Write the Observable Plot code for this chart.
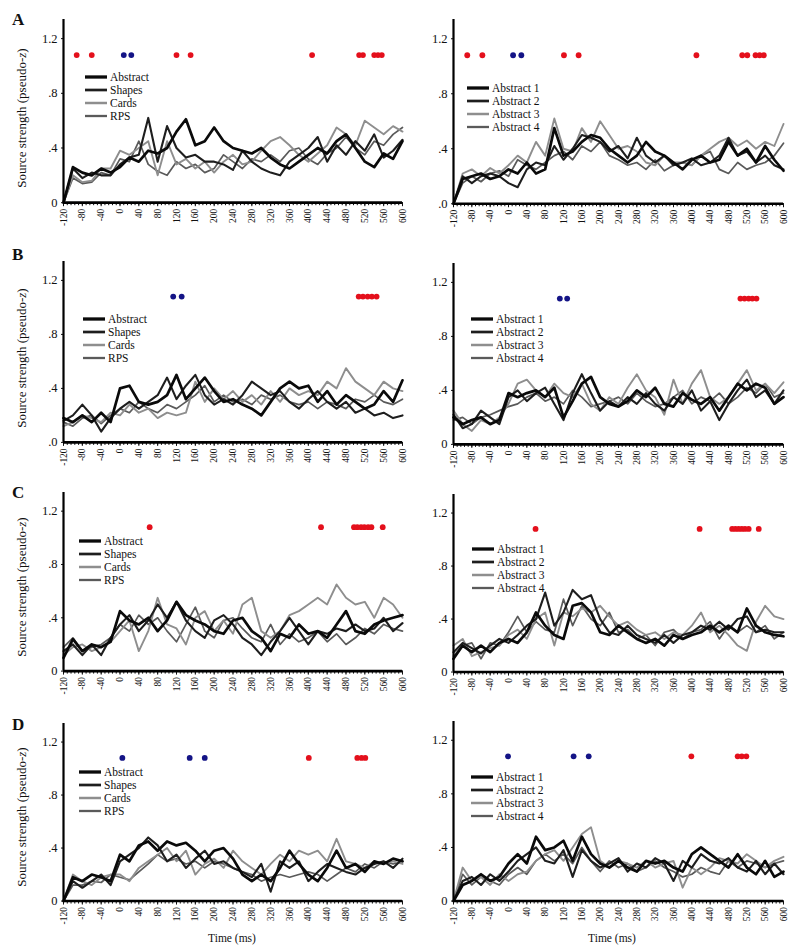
<!DOCTYPE html>
<html><head><meta charset="utf-8">
<script src="https://cdn.jsdelivr.net/npm/d3@7"></script>
<script src="https://cdn.jsdelivr.net/npm/@observablehq/plot@0.6"></script>
<style>
body{margin:0;background:#fff;font-family:"Liberation Serif","Times New Roman",serif;color:#111;}
#root{position:relative;width:800px;height:949px;overflow:hidden;}
.abs{position:absolute;}
.letter{font-weight:bold;font-size:17px;line-height:1;}
.ylab{font-size:13px;white-space:nowrap;transform:translate(-50%,-50%) rotate(-90deg);}
.xlab{font-size:11.5px;white-space:nowrap;transform:translateX(-50%);}
.legend .row{display:flex;align-items:center;height:12.9px;line-height:12.9px;font-size:11.5px;white-space:nowrap;font-family:"Liberation Serif",serif;}
.legend svg{margin-right:3px;}
</style></head><body><div id="root"></div>
<script>
// ---------------- data ----------------
const times = [-120,-100,-80,-60,-40,-20,0,20,40,60,80,100,120,140,160,180,200,220,240,260,280,300,320,340,360,380,400,420,440,460,480,500,520,540,560,580,600];
const xTickLabels = [-120,-80,-40,0,40,80,120,160,200,240,280,320,360,400,440,480,520,560,600];
const yTickValues = [0, 0.4, 0.8, 1.2];
const markerLevel = 1.08;
const leftSeries = ["Abstract","Shapes","Cards","RPS"];
const rightSeries = ["Abstract 1","Abstract 2","Abstract 3","Abstract 4"];

// Row A, left
const aLeftAbstract = [0,0.26,0.22,0.2,0.25,0.22,0.26,0.33,0.3,0.38,0.36,0.4,0.52,0.61,0.42,0.45,0.55,0.45,0.4,0.38,0.36,0.4,0.33,0.28,0.25,0.3,0.35,0.4,0.36,0.45,0.5,0.4,0.3,0.26,0.36,0.32,0.45];
const aLeftShapes = [0,0.25,0.18,0.22,0.2,0.2,0.28,0.33,0.35,0.62,0.3,0.56,0.4,0.33,0.35,0.3,0.3,0.28,0.24,0.38,0.3,0.25,0.22,0.2,0.3,0.35,0.4,0.48,0.3,0.42,0.35,0.45,0.38,0.5,0.33,0.38,0.46];
const aLeftCards = [0,0.2,0.15,0.16,0.25,0.25,0.38,0.35,0.4,0.45,0.2,0.45,0.28,0.32,0.25,0.3,0.22,0.3,0.35,0.28,0.3,0.38,0.45,0.48,0.42,0.35,0.3,0.36,0.42,0.55,0.5,0.42,0.6,0.55,0.5,0.56,0.52];
const aLeftRPS = [0,0.18,0.14,0.15,0.22,0.2,0.32,0.3,0.45,0.28,0.23,0.2,0.3,0.25,0.28,0.22,0.25,0.35,0.3,0.25,0.32,0.3,0.35,0.3,0.38,0.4,0.32,0.28,0.36,0.4,0.48,0.4,0.35,0.45,0.42,0.5,0.55];
const aLeftRed = [-92,-60,120,150,408,508,516,540,548,556];
const aLeftBlue = [8,24];
// Row A, right
const aRight1 = [0,0.18,0.2,0.22,0.18,0.2,0.25,0.22,0.3,0.22,0.25,0.55,0.35,0.38,0.45,0.5,0.48,0.4,0.35,0.3,0.35,0.45,0.38,0.35,0.3,0.25,0.32,0.35,0.3,0.32,0.45,0.35,0.4,0.3,0.42,0.32,0.24];
const aRight2 = [0,0.2,0.15,0.2,0.22,0.2,0.15,0.12,0.25,0.3,0.28,0.42,0.32,0.4,0.5,0.48,0.45,0.38,0.42,0.33,0.48,0.35,0.3,0.35,0.28,0.3,0.33,0.28,0.3,0.35,0.48,0.35,0.38,0.3,0.35,0.28,0.25];
const aRight3 = [0,0.22,0.25,0.2,0.26,0.22,0.28,0.35,0.3,0.45,0.35,0.62,0.4,0.38,0.55,0.45,0.6,0.5,0.4,0.42,0.38,0.3,0.28,0.35,0.3,0.3,0.28,0.35,0.4,0.45,0.48,0.42,0.46,0.4,0.45,0.42,0.58];
const aRight4 = [0,0.15,0.2,0.16,0.22,0.24,0.2,0.32,0.28,0.25,0.3,0.35,0.38,0.32,0.42,0.38,0.45,0.35,0.32,0.28,0.3,0.25,0.32,0.24,0.28,0.3,0.28,0.35,0.38,0.25,0.22,0.3,0.25,0.28,0.3,0.35,0.44];
const aRightRed = [-90,-57,121,153,410,510,521,539,548,557];
const aRightBlue = [10,28];

// Row B, left
const bLeftAbstract = [0.18,0.15,0.2,0.15,0.22,0.15,0.4,0.42,0.3,0.28,0.3,0.35,0.5,0.32,0.4,0.48,0.38,0.3,0.32,0.28,0.25,0.2,0.3,0.4,0.45,0.4,0.42,0.3,0.38,0.28,0.35,0.3,0.25,0.28,0.38,0.3,0.46];
const bLeftShapes = [0.16,0.2,0.28,0.2,0.08,0.18,0.25,0.3,0.25,0.3,0.35,0.48,0.32,0.42,0.5,0.35,0.28,0.32,0.28,0.35,0.45,0.4,0.35,0.38,0.3,0.25,0.32,0.38,0.3,0.25,0.3,0.22,0.25,0.2,0.22,0.18,0.2];
const bLeftCards = [0.12,0.15,0.2,0.18,0.15,0.22,0.2,0.28,0.22,0.25,0.18,0.22,0.2,0.22,0.45,0.3,0.4,0.32,0.38,0.3,0.35,0.28,0.38,0.3,0.4,0.35,0.38,0.35,0.45,0.4,0.55,0.45,0.4,0.35,0.45,0.4,0.38];
const bLeftRPS = [0.15,0.12,0.18,0.2,0.14,0.2,0.25,0.22,0.3,0.25,0.22,0.28,0.25,0.3,0.35,0.42,0.3,0.35,0.3,0.32,0.28,0.35,0.32,0.35,0.3,0.28,0.3,0.25,0.3,0.28,0.25,0.32,0.3,0.35,0.3,0.28,0.32];
const bLeftRed = [507,516,526,535,545];
const bLeftBlue = [113,131];
// Row B, right
const bRight1 = [0.2,0.15,0.18,0.2,0.15,0.18,0.38,0.35,0.38,0.4,0.35,0.42,0.2,0.32,0.45,0.5,0.35,0.3,0.28,0.32,0.4,0.35,0.42,0.3,0.28,0.38,0.33,0.3,0.35,0.25,0.35,0.45,0.4,0.45,0.42,0.3,0.35];
const bRight2 = [0.22,0.12,0.15,0.25,0.2,0.15,0.35,0.4,0.32,0.38,0.42,0.3,0.18,0.38,0.52,0.38,0.25,0.32,0.28,0.35,0.3,0.38,0.3,0.25,0.35,0.3,0.4,0.25,0.32,0.18,0.3,0.4,0.48,0.35,0.4,0.3,0.4];
const bRight3 = [0.25,0.15,0.1,0.18,0.15,0.2,0.3,0.45,0.48,0.4,0.35,0.45,0.38,0.35,0.45,0.3,0.25,0.35,0.3,0.42,0.52,0.4,0.35,0.22,0.48,0.3,0.45,0.55,0.35,0.3,0.35,0.45,0.55,0.4,0.45,0.38,0.46];
const bRight4 = [0.18,0.2,0.15,0.2,0.22,0.25,0.28,0.3,0.35,0.38,0.32,0.35,0.3,0.4,0.35,0.28,0.3,0.32,0.35,0.3,0.38,0.32,0.28,0.3,0.35,0.4,0.3,0.35,0.32,0.38,0.3,0.35,0.42,0.38,0.45,0.35,0.38];
const bRightRed = [506,515,524,532,541];
const bRightBlue = [112,128];

// Row C, left
const cLeftAbstract = [0.1,0.24,0.15,0.2,0.18,0.22,0.45,0.38,0.35,0.4,0.3,0.38,0.52,0.42,0.38,0.35,0.3,0.28,0.38,0.4,0.3,0.25,0.15,0.28,0.25,0.35,0.28,0.3,0.25,0.35,0.45,0.3,0.28,0.35,0.38,0.4,0.42];
const cLeftShapes = [0.15,0.2,0.12,0.2,0.12,0.25,0.35,0.42,0.3,0.38,0.5,0.4,0.52,0.38,0.3,0.25,0.38,0.42,0.35,0.25,0.2,0.12,0.22,0.3,0.4,0.3,0.2,0.3,0.28,0.32,0.3,0.35,0.3,0.32,0.4,0.3,0.36];
const cLeftCards = [0.12,0.18,0.2,0.15,0.18,0.22,0.3,0.38,0.15,0.3,0.55,0.35,0.32,0.2,0.4,0.45,0.3,0.38,0.28,0.5,0.55,0.3,0.25,0.3,0.42,0.45,0.5,0.55,0.5,0.65,0.55,0.5,0.52,0.4,0.55,0.5,0.4];
const cLeftRPS = [0.18,0.25,0.15,0.18,0.2,0.25,0.35,0.3,0.42,0.35,0.4,0.3,0.22,0.35,0.48,0.3,0.25,0.38,0.4,0.32,0.25,0.22,0.35,0.2,0.28,0.22,0.25,0.3,0.22,0.28,0.2,0.25,0.32,0.28,0.35,0.32,0.3];
const cLeftRed = [63,427,497,504,512,519,527,534,558];
const cLeftBlue = [];
// Row C, right
const cRight1 = [0.1,0.2,0.15,0.2,0.15,0.22,0.25,0.22,0.3,0.45,0.35,0.28,0.25,0.5,0.52,0.45,0.3,0.28,0.35,0.3,0.25,0.22,0.25,0.2,0.28,0.25,0.28,0.3,0.35,0.3,0.35,0.3,0.48,0.35,0.3,0.28,0.27];
const cRight2 = [0.15,0.22,0.18,0.14,0.2,0.25,0.22,0.28,0.35,0.4,0.6,0.35,0.45,0.62,0.55,0.58,0.4,0.3,0.28,0.35,0.28,0.25,0.22,0.28,0.22,0.28,0.3,0.35,0.32,0.38,0.32,0.4,0.42,0.3,0.32,0.3,0.3];
const cRight3 = [0.2,0.25,0.12,0.15,0.18,0.2,0.28,0.32,0.25,0.4,0.45,0.2,0.45,0.42,0.48,0.45,0.5,0.42,0.35,0.38,0.32,0.28,0.3,0.25,0.3,0.28,0.35,0.45,0.3,0.35,0.28,0.2,0.16,0.38,0.5,0.42,0.4];
const cRight4 = [0.12,0.2,0.22,0.1,0.22,0.2,0.3,0.42,0.3,0.38,0.32,0.3,0.55,0.35,0.5,0.4,0.35,0.45,0.3,0.32,0.25,0.28,0.2,0.3,0.32,0.25,0.3,0.32,0.38,0.25,0.35,0.3,0.35,0.3,0.35,0.25,0.3];
const cRightRed = [59,417,488,495,502,509,516,524,546];
const cRightBlue = [];

// Row D, left
const dLeftAbstract = [0,0.18,0.15,0.2,0.18,0.15,0.35,0.3,0.42,0.45,0.38,0.45,0.42,0.44,0.38,0.3,0.38,0.4,0.32,0.2,0.15,0.2,0.15,0.25,0.38,0.28,0.2,0.15,0.25,0.38,0.25,0.28,0.22,0.3,0.28,0.32,0.3];
const dLeftShapes = [0,0.15,0.1,0.15,0.2,0.12,0.3,0.35,0.4,0.48,0.42,0.3,0.35,0.25,0.32,0.38,0.28,0.3,0.25,0.22,0.18,0.28,0.07,0.3,0.25,0.3,0.15,0.22,0.28,0.25,0.22,0.2,0.25,0.28,0.3,0.25,0.32];
const dLeftCards = [0,0.2,0.15,0.12,0.18,0.2,0.2,0.15,0.25,0.3,0.35,0.4,0.3,0.38,0.2,0.28,0.32,0.25,0.38,0.3,0.25,0.2,0.28,0.35,0.3,0.38,0.35,0.38,0.3,0.47,0.3,0.28,0.25,0.3,0.28,0.3,0.28];
const dLeftRPS = [0,0.12,0.12,0.15,0.14,0.2,0.18,0.16,0.22,0.28,0.35,0.3,0.32,0.28,0.3,0.25,0.3,0.28,0.25,0.22,0.2,0.15,0.18,0.2,0.18,0.2,0.22,0.2,0.15,0.2,0.25,0.22,0.28,0.25,0.3,0.28,0.3];
const dLeftRed = [401,504,513,521];
const dLeftBlue = [5,148,180];
// Row D, right
const dRight1 = [0,0.12,0.15,0.2,0.15,0.18,0.28,0.35,0.28,0.48,0.38,0.4,0.45,0.3,0.48,0.35,0.28,0.25,0.3,0.25,0.22,0.3,0.28,0.3,0.25,0.22,0.35,0.4,0.35,0.3,0.25,0.35,0.25,0.2,0.3,0.18,0.22];
const dRight2 = [0,0.15,0.18,0.12,0.2,0.15,0.22,0.3,0.35,0.4,0.3,0.28,0.38,0.18,0.38,0.3,0.25,0.28,0.32,0.22,0.28,0.25,0.32,0.28,0.15,0.3,0.25,0.35,0.3,0.28,0.32,0.25,0.22,0.3,0.2,0.28,0.2];
const dRight3 = [0,0.25,0.15,0.18,0.12,0.2,0.15,0.2,0.22,0.3,0.35,0.38,0.3,0.4,0.5,0.55,0.3,0.25,0.3,0.28,0.25,0.3,0.25,0.28,0.3,0.1,0.25,0.2,0.25,0.32,0.3,0.28,0.35,0.3,0.25,0.3,0.33];
const dRight4 = [0,0.2,0.12,0.18,0.15,0.12,0.2,0.25,0.2,0.3,0.35,0.3,0.35,0.28,0.4,0.3,0.22,0.3,0.25,0.28,0.22,0.25,0.3,0.25,0.22,0.18,0.2,0.25,0.22,0.2,0.3,0.25,0.3,0.28,0.25,0.28,0.3];
const dRightRed = [399,500,509,519];
const dRightBlue = [-1,142,175];

// ---------------- layout & styles ----------------
const seriesStroke = ["#0a0a0a","#1e1e1e","#8e8e8e","#5a5a5a"];
const seriesWidth = [2.7,2.1,1.9,1.7];
const redColor = "#e4101c", blueColor = "#141486";

const rows = [
  {letter:"A", letterTop:11, zero:[202,203], scale:[136.7,137.5], zeroLab:["0",".0"],
   left:{series:[aLeftAbstract,aLeftShapes,aLeftCards,aLeftRPS], red:aLeftRed, blue:aLeftBlue, legend:[85,79]},
   right:{series:[aRight1,aRight2,aRight3,aRight4], red:aRightRed, blue:aRightBlue, legend:[467,90]}},
  {letter:"B", letterTop:246, zero:[442,444], scale:[135,135], zeroLab:[".0","0"],
   left:{series:[bLeftAbstract,bLeftShapes,bLeftCards,bLeftRPS], red:bLeftRed, blue:bLeftBlue, legend:[83,321]},
   right:{series:[bRight1,bRight2,bRight3,bRight4], red:bRightRed, blue:bRightBlue, legend:[471,321]}},
  {letter:"C", letterTop:484, zero:[671,672], scale:[133.3,132.5], zeroLab:["0","0"],
   left:{series:[cLeftAbstract,cLeftShapes,cLeftCards,cLeftRPS], red:cLeftRed, blue:cLeftBlue, legend:[79,543]},
   right:{series:[cRight1,cRight2,cRight3,cRight4], red:cRightRed, blue:cRightBlue, legend:[472,551]}},
  {letter:"D", letterTop:716, zero:[901,901], scale:[132.5,134], zeroLab:["0","0"],
   left:{series:[dLeftAbstract,dLeftShapes,dLeftCards,dLeftRPS], red:dLeftRed, blue:dLeftBlue, legend:[79,774]},
   right:{series:[dRight1,dRight2,dRight3,dRight4], red:dRightRed, blue:dRightBlue, legend:[471,779]}}
];
const cols = [
  {svgLeft:0, width:410, ml:63, mr:8, names:leftSeries},
  {svgLeft:400, width:400, ml:53, mr:17, names:rightSeries}
];
const yMax = 1.34, mTop = 6, mBottom = 34;
const minorTicks = d3.range(-120, 601, 8);

const root = document.getElementById("root");
function addDiv(cls, left, top, html){
  const d = document.createElement("div");
  d.className = "abs " + cls;
  d.style.left = left + "px"; d.style.top = top + "px";
  d.innerHTML = html; root.appendChild(d); return d;
}

rows.forEach((row, ri) => {
  addDiv("letter", 12, row.letterTop, row.letter);
  [row.left, row.right].forEach((panel, ci) => {
    const col = cols[ci];
    const plotH = yMax * row.scale[ci];
    const top = row.zero[ci] - plotH - mTop;
    const zl = row.zeroLab[ci];
    const lineMarks = [];
    for (let s = 3; s >= 0; s--) {
      const data = times.map((t, i) => ({t, v: panel.series[s][i]}));
      lineMarks.push(Plot.line(data, {x:"t", y:"v", stroke: seriesStroke[s], strokeWidth: seriesWidth[s], strokeLinejoin:"round"}));
    }
    const chart = Plot.plot({
      width: col.width, height: plotH + mTop + mBottom,
      marginLeft: col.ml, marginRight: col.mr, marginTop: mTop, marginBottom: mBottom,
      x: {domain:[-120,600]},
      y: {domain:[0,yMax]},
      style: {fontFamily:'"Liberation Serif", serif', background:"transparent", color:"#111", overflow:"visible"},
      marks: [
        Plot.axisY({ticks: yTickValues, tickSize: 2, tickPadding: 4, fontSize: 12.5, label: null,
          tickFormat: d => d === 0 ? zl : d3.format(".1f")(d).replace(/^0/, "")}),
        Plot.axisX({ticks: minorTicks, tickSize: 3, tickFormat: () => "", label: null, strokeWidth: 1}),
        Plot.axisX({ticks: xTickLabels, tickSize: 4, tickPadding: 2, tickRotate: -90, fontSize: 9.5, label: null,
          tickFormat: d => String(d)}),
        ...lineMarks,
        Plot.ruleY([0], {stroke:"#000", strokeWidth: 2.6}),
        Plot.ruleX([-120], {stroke:"#000", strokeWidth: 2.2}),
        Plot.dot(panel.red, {x: d => d, y: () => markerLevel, r: 2.9, fill: redColor, stroke: "none"}),
        Plot.dot(panel.blue, {x: d => d, y: () => markerLevel, r: 2.9, fill: blueColor, stroke: "none"})
      ]
    });
    chart.style.position = "absolute";
    chart.style.left = col.svgLeft + "px";
    chart.style.top = top + "px";
    root.appendChild(chart);

    // legend
    let html = "";
    col.names.forEach((n, s) => {
      html += `<div class="row"><svg width="22" height="6"><line x1="0" x2="22" y1="3" y2="3" stroke="${seriesStroke[s]}" stroke-width="${seriesWidth[s] + 0.6}"/></svg><span>${n}</span></div>`;
    });
    addDiv("legend", panel.legend[0], panel.legend[1] - 8, html);

    // y label on left column
    if (ci === 0) addDiv("ylab", 22, row.zero[ci] - 84, "Source strength (pseudo-<i>z</i>)");
    // x label on bottom row
    if (ri === rows.length - 1) addDiv("xlab", ci === 0 ? 232 : 612, 932, "Time (ms)");
  });
});
</script></body></html>
